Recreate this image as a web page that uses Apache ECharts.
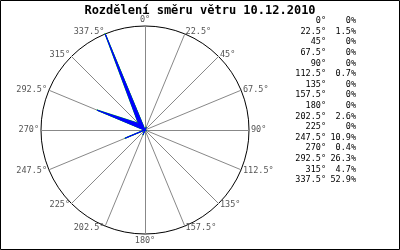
<!DOCTYPE html>
<html>
<head>
<meta charset="utf-8">
<script src="https://cdn.jsdelivr.net/npm/echarts@6/dist/echarts.min.js"></script>
<style>
html,body{margin:0;padding:0;background:#fff;}
#c{width:400px;height:250px;}
</style>
</head>
<body>
<div id="c"></div>
<script>
const titleText = 'Rozdělení směru větru 10.12.2010';
const directions = ['0°','22.5°','45°','67.5°','90°','112.5°','135°','157.5°','180°','202.5°','225°','247.5°','270°','292.5°','315°','337.5°'];
const percents = [0, 1.5, 0, 0, 0, 0.7, 0, 0, 0, 2.6, 0, 10.9, 0.4, 26.3, 4.7, 52.9];
const percentLabels = ['0%','1.5%','0%','0%','0%','0.7%','0%','0%','0%','2.6%','0%','10.9%','0.4%','26.3%','4.7%','52.9%'];

const maxVal = Math.max.apply(null, percents);
// radar goes counter-clockwise; reverse order (keeping 0° first) for compass clockwise
const order = [0];
for (let i = directions.length - 1; i >= 1; i--) order.push(i);
const indicators = order.map(i => ({ name: directions[i], max: maxVal }));
const values = order.map(i => percents[i]);

const font = 'DejaVu Sans Mono';
const graphics = [{
  type: 'rect', shape: { x: 0.5, y: 0.5, width: 399, height: 249 },
  style: { fill: 'none', stroke: '#000', lineWidth: 1 }, silent: true, z: 100
}];
directions.forEach((d, i) => {
  const y = 21 + i * 10.6;
  graphics.push({ type: 'text', x: 326, y: y, style: { text: d, fill: '#000', font: '8.5px "' + font + '"', textAlign: 'right', textVerticalAlign: 'middle' } });
  graphics.push({ type: 'text', x: 356, y: y, style: { text: percentLabels[i], fill: '#000', font: '8.5px "' + font + '"', textAlign: 'right', textVerticalAlign: 'middle' } });
});

const chart = echarts.init(document.getElementById('c'), null, { renderer: 'canvas' });
chart.setOption({
  animation: false,
  backgroundColor: '#fff',
  title: {
    text: titleText, left: 'center', top: 0,
    textStyle: { fontFamily: font, fontWeight: 'bold', fontSize: 12, color: '#000' }
  },
  radar: {
    center: [145, 130],
    radius: 104,
    startAngle: 90,
    splitNumber: 1,
    shape: 'circle',
    indicator: indicators,
    axisName: { color: '#555', fontFamily: font, fontSize: 8.5 },
    nameGap: 2,
    axisLine: { lineStyle: { color: '#888', width: 1 } },
    splitLine: { lineStyle: { color: '#000', width: 1 } },
    splitArea: { show: false },
    axisTick: { show: false },
    axisLabel: { show: false }
  },
  series: [{
    type: 'radar',
    z: 2,
    symbol: 'none',
    lineStyle: { color: '#00e000', width: 1.3 },
    data: [{ value: values }]
  }, {
    type: 'radar',
    z: 3,
    symbol: 'none',
    lineStyle: { color: '#0000ff', width: 1 },
    areaStyle: { color: '#0000ff', opacity: 1 },
    data: [{ value: values }]
  }],
  graphic: graphics
});
</script>
</body>
</html>
